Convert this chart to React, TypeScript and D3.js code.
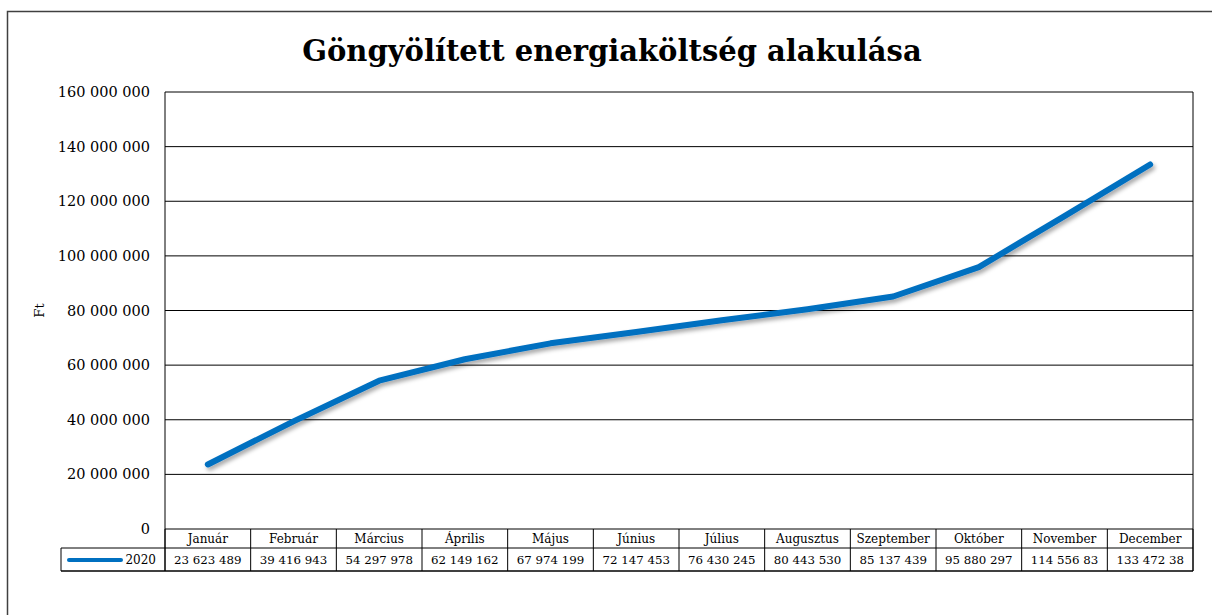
import { useMemo } from "react";
import * as d3 from "d3";

const months = [
  "Január", "Február", "Március", "Április", "Május", "Június",
  "Július", "Augusztus", "Szeptember", "Október", "November", "December",
];
const values2020 = [
  23623489, 39416943, 54297978, 62149162, 67974199, 72147453,
  76430245, 80443530, 85137439, 95880297, 114556830, 133472380,
];
// cell texts as shown (last two are cut off by the cell width)
const cellLabels = [
  "23 623 489", "39 416 943", "54 297 978", "62 149 162", "67 974 199", "72 147 453",
  "76 430 245", "80 443 530", "85 137 439", "95 880 297", "114 556 83", "133 472 38",
];
const yTicks = [0, 20e6, 40e6, 60e6, 80e6, 100e6, 120e6, 140e6, 160e6];
const seriesName = "2020";

const W = 1212;
const H = 615;
const font = "'DejaVu Serif', 'Liberation Serif', serif";
const blue = "#0070C0";

const fmt = (v: number) => d3.format(",")(v).replace(/,/g, " ");

export default function App() {
  const left = 165, right = 1193, top = 92, bottom = 529;
  const headerBottom = 548, rowBottom = 571, tableLeft = 61;

  const x = useMemo(
    () => d3.scaleBand<string>().domain(months).range([left, right]).padding(0),
    []
  );
  const y = useMemo(
    () => d3.scaleLinear().domain([0, 160e6]).range([bottom, top]),
    []
  );

  const line = d3
    .line<number>()
    .x((_, i) => (x(months[i]) as number) + x.bandwidth() / 2)
    .y((d) => y(d));

  const bounds = [...months.map((m) => x(m) as number), right];

  return (
    <svg
      width={W}
      height={H}
      style={{ position: "fixed", left: 0, top: 0, background: "#fff" }}
      fontFamily={font}
    >
      <defs>
        <filter id="shadow" x="-10%" y="-10%" width="120%" height="130%">
          <feDropShadow dx="2" dy="3" stdDeviation="2" floodColor="#000" floodOpacity="0.35" />
        </filter>
      </defs>
      {/* outer chart border */}
      <rect x={7.5} y={11.5} width={W + 20} height={H + 20} fill="#fff" stroke="#404040" strokeWidth={1.5} />

      <text x={612} y={61} textAnchor="middle" fontSize={29} fontWeight="bold" fill="#000">
        Göngyölített energiaköltség alakulása
      </text>

      {/* gridlines */}
      {yTicks.map((t) => (
        <line key={t} x1={left} x2={right} y1={y(t)} y2={y(t)} stroke="#000" strokeWidth={1} />
      ))}
      {yTicks.map((t) => (
        <text key={"l" + t} x={150} y={y(t)} dy="0.35em" textAnchor="end" fontSize={14.5} fill="#000">
          {fmt(t)}
        </text>
      ))}
      <text
        transform={`translate(44, ${(top + bottom) / 2}) rotate(-90)`}
        textAnchor="middle"
        fontSize={13}
        fill="#000"
      >
        Ft
      </text>

      {/* plot border */}
      <line x1={left} x2={left} y1={top} y2={rowBottom} stroke="#000" />
      <line x1={right} x2={right} y1={top} y2={rowBottom} stroke="#000" />

      {/* data table */}
      <line x1={tableLeft} x2={right} y1={headerBottom} y2={headerBottom} stroke="#000" />
      <line x1={tableLeft} x2={right} y1={rowBottom} y2={rowBottom} stroke="#000" strokeWidth={1.5} />
      <line x1={tableLeft} x2={tableLeft} y1={headerBottom} y2={rowBottom} stroke="#000" />
      {bounds.map((b, i) => (
        <line key={"v" + i} x1={b} x2={b} y1={bottom} y2={rowBottom} stroke="#000" />
      ))}
      {months.map((m) => (
        <text key={m} x={(x(m) as number) + x.bandwidth() / 2} y={(bottom + headerBottom) / 2} dy="0.35em"
          textAnchor="middle" fontSize={12} fill="#000">
          {m}
        </text>
      ))}
      {cellLabels.map((c, i) => (
        <text key={"c" + i} x={(x(months[i]) as number) + x.bandwidth() / 2} y={(headerBottom + rowBottom) / 2}
          dy="0.35em" textAnchor="middle" fontSize={11.8} fill="#000">
          {c}
        </text>
      ))}
      {/* legend key */}
      <line x1={69} x2={121} y1={560} y2={560} stroke={blue} strokeWidth={4} strokeLinecap="round" />
      <text x={156} y={560} dy="0.35em" textAnchor="end" fontSize={12} fill="#000">
        {seriesName}
      </text>

      {/* series line */}
      <path
        d={line(values2020) ?? ""}
        fill="none"
        stroke={blue}
        strokeWidth={6}
        strokeLinecap="round"
        strokeLinejoin="round"
        filter="url(#shadow)"
      />
    </svg>
  );
}
